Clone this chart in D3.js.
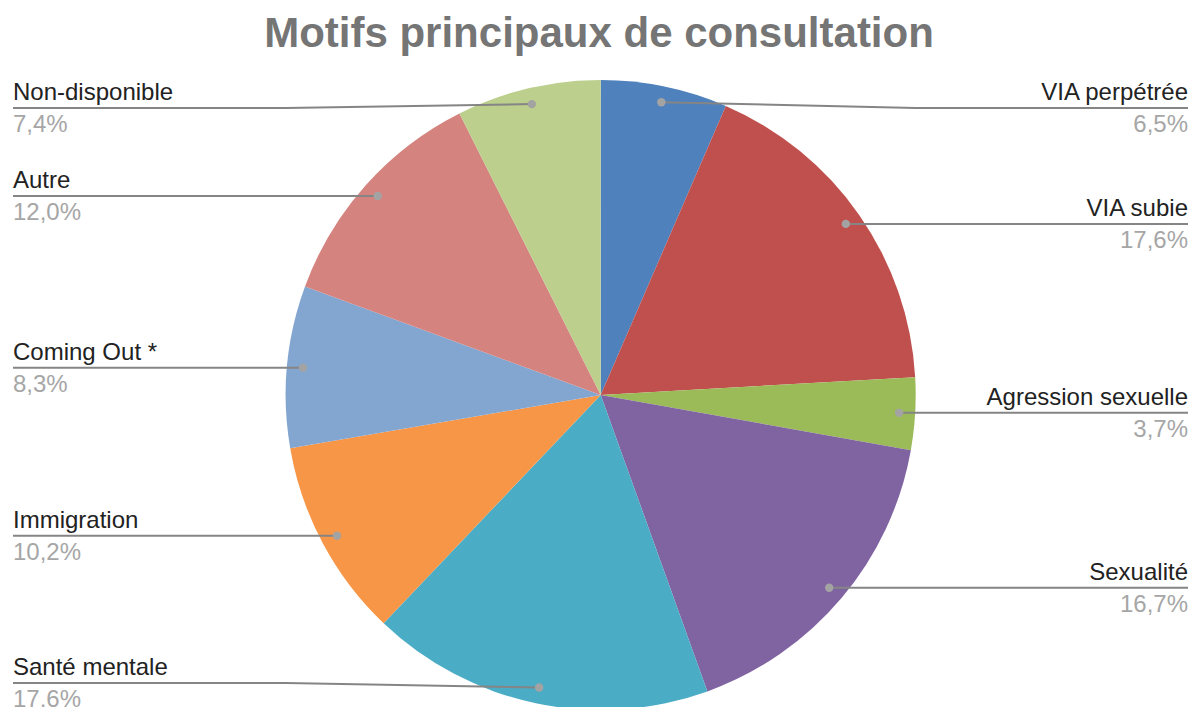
<!DOCTYPE html>
<html>
<head>
<meta charset="utf-8">
<script src="https://cdn.jsdelivr.net/npm/d3@7"></script>
<style>
  html, body { margin: 0; padding: 0; background: #fff; }
  svg { display: block; }
  text { font-family: "Liberation Sans", Arial, Helvetica, sans-serif; }
</style>
</head>
<body>
<svg id="chart" width="1191" height="707"></svg>
<script>
// ---- Data ----
const title = "Motifs principaux de consultation";
const categories = ["VIA perpétrée", "VIA subie", "Agression sexuelle", "Sexualité", "Santé mentale", "Immigration", "Coming Out *", "Autre", "Non-disponible"];
const values = [6.5, 17.6, 3.7, 16.7, 17.6, 10.2, 8.3, 12.0, 7.4];
const valueLabels = ["6,5%", "17,6%", "3,7%", "16,7%", "17,6%", "10,2%", "8,3%", "12,0%", "7,4%"];
const colors = ["#4f81bd", "#c0504d", "#9bbb59", "#8064a2", "#4bacc6", "#f79646", "#83a6d1", "#d4837f", "#bccf8d"];

// ---- Layout ----
const W = 1191, H = 707;
const cx = 600.7, cy = 395, R = 315;
const leftX = 13, rightX = 1188;
const minY = 108, maxY = 683;

const svg = d3.select("#chart");

svg.append("text")
  .attr("x", 599).attr("y", 47)
  .attr("text-anchor", "middle")
  .attr("font-size", 42).attr("font-weight", "bold")
  .attr("fill", "#757575")
  .text(title);

const color = d3.scaleOrdinal().domain(categories).range(colors);
const pie = d3.pie().value(d => d.v).sort(null);
const data = categories.map((c, i) => ({ c, v: values[i], lab: valueLabels[i] }));
const arcs = pie(data);
const arc = d3.arc().innerRadius(0).outerRadius(R);
const dotArc = d3.arc().innerRadius(R * 0.949).outerRadius(R * 0.949);

const g = svg.append("g").attr("transform", `translate(${cx},${cy})`);
g.selectAll("path.slice").data(arcs).enter().append("path")
  .attr("class", "slice")
  .attr("d", arc)
  .attr("fill", d => color(d.data.c));

// labels + leader lines
const lab = svg.append("g");
arcs.forEach(a => {
  const [dx, dy] = dotArc.centroid(a);
  const px = cx + dx, py = cy + dy;
  const mid = (a.startAngle + a.endAngle) / 2;
  const right = mid < Math.PI;
  const ly = Math.max(minY, Math.min(maxY, py));
  const edgeX = right ? cx + R : cx - R;
  const endX = right ? rightX : leftX;
  lab.append("path")
    .attr("d", d3.line()([[endX, ly], [edgeX, ly], [px, py]]))
    .attr("fill", "none").attr("stroke", "#858585").attr("stroke-width", 2);
  lab.append("circle").attr("cx", px).attr("cy", py).attr("r", 4.2).attr("fill", "#a3a3a3");
  lab.append("text")
    .attr("x", endX).attr("y", ly - 8)
    .attr("text-anchor", right ? "end" : "start")
    .attr("font-size", 24).attr("fill", "#222")
    .text(a.data.c);
  lab.append("text")
    .attr("x", endX).attr("y", ly + 24)
    .attr("text-anchor", right ? "end" : "start")
    .attr("font-size", 24).attr("fill", "#a6a6a6")
    .text(a.data.lab);
});
</script>
</body>
</html>
